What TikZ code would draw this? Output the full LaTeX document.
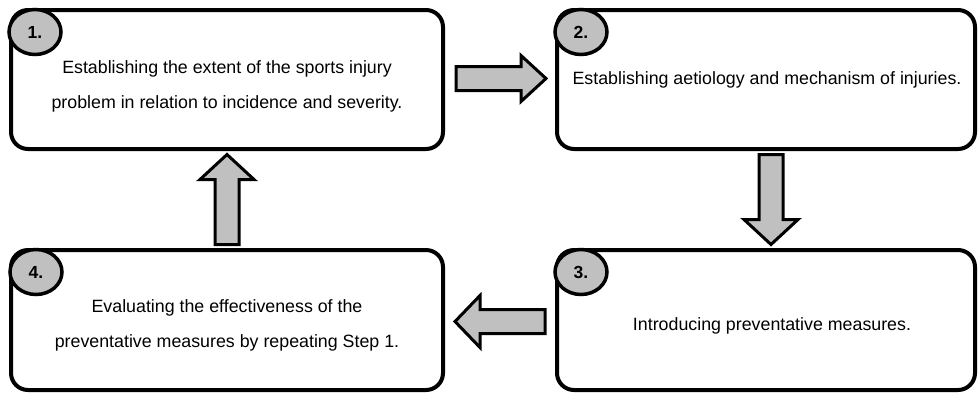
\documentclass[tikz,border=0pt]{standalone}
\usepackage{fontspec}
\setmainfont{Liberation Sans}
\usetikzlibrary{shapes.geometric,calc}

\definecolor{badgegray}{RGB}{192,192,192}
\tikzset{
  stepbox/.style={draw=black, line width=4pt, rounded corners=17pt, fill=white,
    minimum width=432pt, minimum height=139pt, inner sep=0pt},
  steptext/.style={align=center, inner sep=0pt,
    font=\fontsize{17.8}{35}\selectfont},
  badge/.style={ellipse, draw=black, line width=3.5pt, fill=badgegray,
    minimum width=52pt, minimum height=45pt, inner sep=0pt,
    font=\fontsize{17.5}{20}\selectfont\bfseries},
  arrowstyle/.style={draw=black, line width=3pt, line join=miter, fill=badgegray},
  pics/blockarrow/.style={code={
    \draw[arrowstyle] (-45,-12) -- (20,-12) -- (20,-#1) -- (45,0)
      -- (20,#1) -- (20,12) -- (-45,12) -- cycle;}}
}

\begin{document}
\begin{tikzpicture}[x=1pt, y=-1pt]
  \useasboundingbox (0,0) rectangle (979,392);

  % the four steps of the cycle
  \node[stepbox] (s1) at (227,79.5) {};
  \node[stepbox, minimum width=418pt] (s2) at (766,79.5) {};
  \node[stepbox, minimum width=418pt, minimum height=140pt] (s3) at (766,320) {};
  \node[stepbox, minimum height=140pt] (s4) at (227,320) {};

  % their texts
  \node[steptext] (t1) at ($(s1.center)+(0,7)$)
    {Establishing the extent of the sports injury\\problem in relation to incidence and severity.};
  \node[steptext] (t2) at ($(s2.center)+(1,0)$)
    {Establishing aetiology and mechanism of injuries.};
  \node[steptext] (t3) at ($(s3.center)+(6,6)$)
    {Introducing preventative measures.};
  \node[steptext] (t4) at ($(s4.center)+(0,5)$)
    {Evaluating the effectiveness of the\\preventative measures by repeating Step 1.};

  % numbered badges on the top-left corners
  \node[badge] (n1) at ($(s1.north west)+(26,24)$) {1.};
  \node[badge] (n2) at ($(s2.north west)+(26,24)$) {2.};
  \node[badge] (n3) at ($(s3.north west)+(26,24)$) {3.};
  \node[badge] (n4) at ($(s4.north west)+(27,24)$) {4.};

  % block arrows between the steps
  \pic at ($(s1.east)!0.5!(s2.west)+(1,-1)$) {blockarrow=23};
  \pic[rotate=-90] at ($(s2.south)!0.5!(s3.north)+(5,0)$) {blockarrow=27};
  \pic[rotate=180] at ($(s3.west)!0.5!(s4.east)+(0,1.5)$) {blockarrow=26};
  \pic[rotate=90] at ($(s4.north)!0.5!(s1.south)+(0,0)$) {blockarrow=27};
\end{tikzpicture}
\end{document}
